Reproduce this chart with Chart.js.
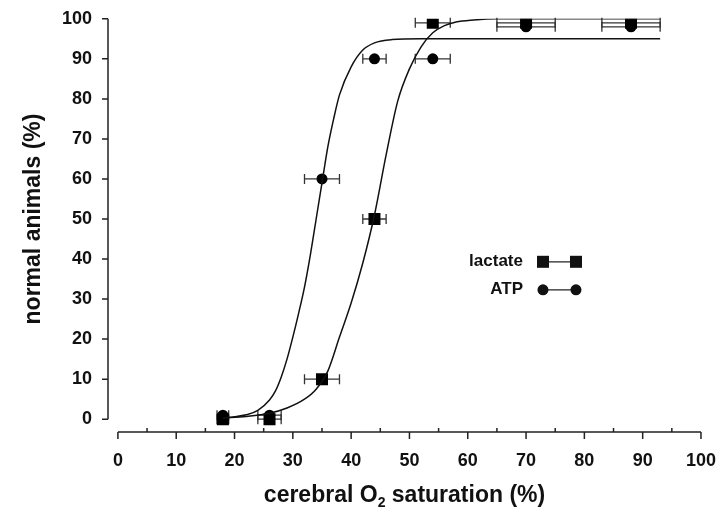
<!DOCTYPE html>
<html>
<head>
<meta charset="utf-8">
<script src="https://cdn.jsdelivr.net/npm/chart.js@4.4.0/dist/chart.umd.min.js"></script>
<style>
  html, body { margin: 0; padding: 0; background: #fff; }
  #wrap { width: 726px; height: 512px; }
</style>
</head>
<body>
<div id="wrap"><canvas id="chart"></canvas></div>
<script>
// measured points (cerebral O2 saturation, % normal animals)
const satX = [18, 26, 35, 44, 54, 70, 88];
const satErr = [1, 2, 3, 2, 3, 5, 5];
const lactateY = [0, 0, 10, 50, 99, 99, 99];
const atpY = [1, 1, 60, 90, 90, 98, 98];

// fitted sigmoid curves
const lactateFitX = [18, 22, 26, 29, 32, 34, 36, 38, 40, 42, 44, 46, 48, 50, 52, 54, 56, 58, 61, 65, 75, 93];
const lactateFitY = [0.3, 0.7, 1.5, 2.8, 5, 7.5, 12, 20.5, 29, 39, 51, 66, 79.5, 87.5, 93, 96.5, 98.3, 99.2, 99.7, 100, 100, 100];
const atpFitX = [18, 20, 22, 24, 26, 27, 28, 29, 30, 31, 32, 33, 34, 35, 36, 37, 38, 40, 42, 44, 47, 52, 60, 93];
const atpFitY = [0.3, 0.6, 1.1, 2.2, 4.8, 7, 10.5, 15, 20.5, 26.5, 33, 41, 50, 59, 68, 75, 81, 88, 92.2, 94, 94.8, 95, 95, 95];

const xTicks = [0, 10, 20, 30, 40, 50, 60, 70, 80, 90, 100];
const xMinor = [5, 15, 25, 35, 45, 55, 65, 75, 85, 95];
const yTicks = [0, 10, 20, 30, 40, 50, 60, 70, 80, 90, 100];

const FONT = '"Liberation Sans", Arial, sans-serif';

function pts(xs, ys) {
    return xs.map((v, i) => ({x: v, y: ys[i]}));
}

// horizontal error bars under the markers
const errorBars = {
    id: 'errorBars',
    beforeDatasetsDraw(chart) {
        const {ctx, scales: {x, y}} = chart;
        ctx.save();
        ctx.strokeStyle = '#333';
        ctx.lineWidth = 1.3;
        [lactateY, atpY].forEach(ys => {
            satX.forEach((v, i) => {
                const x0 = x.getPixelForValue(v - satErr[i]);
                const x1 = x.getPixelForValue(v + satErr[i]);
                const py = y.getPixelForValue(ys[i]);
                ctx.beginPath();
                ctx.moveTo(x0, py); ctx.lineTo(x1, py);
                ctx.moveTo(x0, py - 5); ctx.lineTo(x0, py + 5);
                ctx.moveTo(x1, py - 5); ctx.lineTo(x1, py + 5);
                ctx.stroke();
            });
        });
        ctx.restore();
    }
};

// detached axis lines, ticks, axis titles and the legend
const frame = {
    id: 'frame',
    afterDraw(chart) {
        const {ctx, chartArea: a, scales: {x, y}} = chart;
        ctx.save();
        ctx.strokeStyle = '#222';
        ctx.lineWidth = 1.5;
        ctx.beginPath();
        ctx.moveTo(a.left, y.getPixelForValue(0));
        ctx.lineTo(a.left, y.getPixelForValue(100));
        yTicks.forEach(v => {
            const p = y.getPixelForValue(v);
            ctx.moveTo(a.left - 6, p); ctx.lineTo(a.left, p);
        });
        ctx.moveTo(x.getPixelForValue(0), a.bottom);
        ctx.lineTo(x.getPixelForValue(100), a.bottom);
        xTicks.forEach(v => {
            const p = x.getPixelForValue(v);
            ctx.moveTo(p, a.bottom); ctx.lineTo(p, a.bottom + 7);
        });
        xMinor.forEach(v => {
            const p = x.getPixelForValue(v);
            ctx.moveTo(p, a.bottom - 4); ctx.lineTo(p, a.bottom);
        });
        ctx.stroke();

        ctx.fillStyle = '#111';
        const big = 'bold 23px ' + FONT, small = 'bold 14px ' + FONT;

        // y title
        ctx.save();
        ctx.translate(a.left - 74, (y.getPixelForValue(0) + y.getPixelForValue(100)) / 2);
        ctx.rotate(-Math.PI / 2);
        ctx.font = big;
        ctx.textAlign = 'center';
        ctx.textBaseline = 'middle';
        ctx.fillText('normal animals (%)', 0, 0);
        ctx.restore();

        // x title with subscript
        ctx.textBaseline = 'alphabetic';
        const t1 = 'cerebral O', t2 = '2', t3 = ' saturation (%)';
        ctx.font = big;
        const w1 = ctx.measureText(t1).width, w3 = ctx.measureText(t3).width;
        ctx.font = small;
        const w2 = ctx.measureText(t2).width;
        let tx = (a.left + a.right) / 2 - (w1 + w2 + w3) / 2;
        const ty = a.bottom + 70;
        ctx.font = big; ctx.fillText(t1, tx, ty); tx += w1;
        ctx.font = small; ctx.fillText(t2, tx, ty + 5); tx += w2;
        ctx.font = big; ctx.fillText(t3, tx, ty);

        // legend
        const rows = [
            {label: 'lactate', style: 'rect', r: 8.5},
            {label: 'ATP', style: 'circle', r: 5.5}
        ];
        const lx = a.right - 178, m1 = lx + 20, m2 = lx + 53;
        ctx.font = 'bold 17px ' + FONT;
        ctx.textAlign = 'right';
        ctx.textBaseline = 'middle';
        ctx.lineWidth = 1.3;
        rows.forEach((r, i) => {
            const ly = a.top + 243 + i * 28;
            ctx.fillText(r.label, lx, ly);
            ctx.beginPath();
            ctx.moveTo(m1, ly); ctx.lineTo(m2, ly);
            ctx.stroke();
            Chart.helpers.drawPoint(ctx, {pointStyle: r.style, radius: r.r, borderWidth: 0}, m1, ly);
            Chart.helpers.drawPoint(ctx, {pointStyle: r.style, radius: r.r, borderWidth: 0}, m2, ly);
        });
        ctx.restore();
    }
};

const ctx = document.getElementById('chart');
new Chart(ctx, {
    type: 'scatter',
    data: {
        datasets: [
            {
                label: 'lactate fit',
                data: pts(lactateFitX, lactateFitY),
                showLine: true,
                borderColor: '#111',
                borderWidth: 1.5,
                pointRadius: 0,
                cubicInterpolationMode: 'monotone'
            },
            {
                label: 'ATP fit',
                data: pts(atpFitX, atpFitY),
                showLine: true,
                borderColor: '#111',
                borderWidth: 1.5,
                pointRadius: 0,
                cubicInterpolationMode: 'monotone'
            },
            {
                label: 'ATP',
                data: pts(satX, atpY),
                pointStyle: 'circle',
                pointRadius: 5.5,
                backgroundColor: '#000',
                borderColor: '#000',
                borderWidth: 0
            },
            {
                label: 'lactate',
                data: pts(satX, lactateY),
                pointStyle: 'rect',
                pointRadius: 8.5,
                backgroundColor: '#000',
                borderColor: '#000',
                borderWidth: 0
            }
        ]
    },
    options: {
        responsive: true,
        maintainAspectRatio: false,
        animation: false,
        layout: {padding: {top: 18, right: 23, left: 0, bottom: 0}},
        plugins: {
            legend: {display: false},
            tooltip: {enabled: false}
        },
        scales: {
            x: {
                type: 'linear',
                min: -1.7,
                max: 100,
                afterBuildTicks: s => { s.ticks = xTicks.map(v => ({value: v})); },
                afterFit: s => { s.height = 80; },
                grid: {display: false},
                border: {display: false},
                ticks: {
                    padding: 10,
                    color: '#111',
                    font: {family: FONT, size: 18, weight: 'bold'},
                    maxRotation: 0
                }
            },
            y: {
                type: 'linear',
                min: -3.2,
                max: 100,
                afterBuildTicks: s => { s.ticks = yTicks.map(v => ({value: v})); },
                afterFit: s => { s.width = 108; },
                grid: {display: false},
                border: {display: false},
                ticks: {
                    padding: 8,
                    color: '#111',
                    font: {family: FONT, size: 18, weight: 'bold'}
                }
            }
        }
    },
    plugins: [errorBars, frame]
});
</script>
</body>
</html>
